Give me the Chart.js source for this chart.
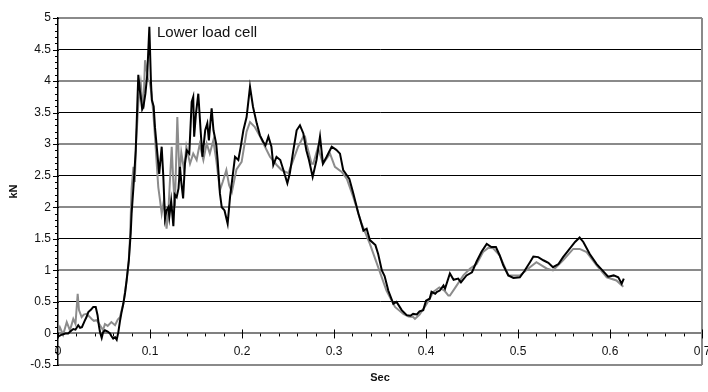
<!DOCTYPE html>
<html><head><meta charset="utf-8">
<script src="https://cdn.jsdelivr.net/npm/chart.js@4.4.1/dist/chart.umd.min.js"></script>
<style>html,body{margin:0;padding:0;background:#fff}#wrap{width:708px;height:392px}</style>
</head><body><div id="wrap"><canvas id="c" width="708" height="392" style="width:708px;height:392px"></canvas></div>
<script>
// ---- data (seconds, kN) ----
const blackT=[0.000,0.004,0.008,0.011,0.014,0.0166,0.019,0.022,0.024,0.026,0.029,0.031,0.033,0.036,0.0384,0.041,0.043,0.0445,0.0457,0.0475,0.049,0.051,0.054,0.0565,0.058,0.060,0.062,0.0638,0.0656,0.0674,0.069,0.071,0.073,0.0746,0.077,0.079,0.080,0.082,0.0845,0.0873,0.089,0.090,0.0915,0.0928,0.095,0.097,0.0993,0.101,0.102,0.104,0.1054,0.108,0.110,0.1127,0.1145,0.1163,0.118,0.120,0.121,0.123,0.1254,0.127,0.129,0.131,0.1326,0.134,0.136,0.138,0.140,0.1427,0.1453,0.147,0.148,0.150,0.1525,0.155,0.157,0.160,0.1623,0.164,0.167,0.169,0.172,0.1735,0.176,0.178,0.181,0.1844,0.187,0.1924,0.196,0.1985,0.2015,0.205,0.2087,0.212,0.216,0.2195,0.223,0.2255,0.2287,0.232,0.234,0.2375,0.2416,0.245,0.2493,0.252,0.2558,0.2594,0.263,0.2667,0.270,0.2728,0.2768,0.281,0.2848,0.288,0.292,0.2975,0.3025,0.3065,0.310,0.3167,0.321,0.3265,0.332,0.3355,0.339,0.345,0.348,0.352,0.355,0.359,0.3645,0.368,0.3736,0.379,0.383,0.386,0.390,0.393,0.397,0.400,0.404,0.406,0.410,0.412,0.415,0.419,0.4207,0.426,0.430,0.435,0.438,0.444,0.450,0.455,0.4605,0.466,0.471,0.476,0.480,0.484,0.4895,0.495,0.502,0.507,0.513,0.5167,0.522,0.5275,0.533,0.538,0.544,0.549,0.555,0.562,0.567,0.571,0.578,0.5855,0.593,0.598,0.604,0.609,0.6127,0.615];
const blackV=[-0.05,-0.02,0.00,0.00,0.04,0.07,0.06,0.13,0.09,0.10,0.20,0.26,0.34,0.38,0.42,0.42,0.29,0.12,0.02,-0.07,0.02,0.05,0.03,0.00,-0.04,-0.08,-0.06,-0.10,0.02,0.20,0.33,0.47,0.65,0.84,1.16,1.58,1.90,2.32,2.90,4.10,3.85,3.75,3.55,3.59,3.80,4.10,4.86,4.00,3.70,3.60,3.27,2.85,2.53,2.96,2.48,1.82,1.95,2.00,1.85,2.10,1.70,2.20,2.16,2.30,2.64,2.40,2.14,2.69,2.90,2.85,3.67,3.75,3.12,3.49,3.80,3.22,2.80,3.22,3.33,3.06,3.57,3.22,3.00,2.75,2.22,2.00,1.95,1.74,2.16,2.80,2.75,2.95,3.22,3.43,3.91,3.59,3.33,3.14,3.04,2.98,3.12,2.96,2.67,2.80,2.75,2.59,2.38,2.54,2.90,3.22,3.30,3.17,2.90,2.75,2.48,2.75,3.12,2.69,2.80,2.96,2.91,2.85,2.59,2.45,2.22,1.90,1.63,1.66,1.48,1.40,1.26,1.00,0.91,0.68,0.47,0.50,0.37,0.29,0.28,0.31,0.30,0.35,0.37,0.52,0.55,0.66,0.63,0.66,0.68,0.76,0.71,0.95,0.85,0.87,0.81,0.92,0.97,1.14,1.30,1.42,1.37,1.37,1.24,1.08,0.92,0.88,0.89,0.99,1.13,1.22,1.21,1.16,1.12,1.05,1.10,1.21,1.32,1.45,1.52,1.45,1.26,1.10,0.98,0.90,0.92,0.89,0.79,0.87];
const grayT=[0.000,0.002,0.0055,0.0075,0.0095,0.013,0.0166,0.019,0.0214,0.0228,0.0257,0.028,0.031,0.034,0.0366,0.039,0.042,0.0457,0.049,0.051,0.054,0.058,0.062,0.065,0.0674,0.069,0.071,0.0746,0.077,0.0785,0.080,0.082,0.0835,0.0848,0.086,0.0873,0.090,0.0915,0.0928,0.0946,0.0964,0.098,0.0996,0.1018,0.1036,0.1054,0.1073,0.109,0.111,0.1127,0.115,0.118,0.120,0.1236,0.125,0.127,0.1297,0.132,0.134,0.137,0.1395,0.1435,0.147,0.1507,0.154,0.158,0.1616,0.165,0.1688,0.172,0.176,0.179,0.183,0.186,0.189,0.194,0.1996,0.205,0.2087,0.214,0.2197,0.225,0.2304,0.2377,0.243,0.2504,0.2558,0.261,0.2667,0.2685,0.270,0.2757,0.2775,0.2825,0.288,0.2957,0.301,0.3084,0.314,0.321,0.330,0.339,0.348,0.357,0.3663,0.3754,0.381,0.386,0.388,0.393,0.400,0.404,0.408,0.4145,0.420,0.4243,0.426,0.432,0.4406,0.448,0.455,0.462,0.468,0.473,0.480,0.4895,0.502,0.513,0.520,0.531,0.538,0.549,0.560,0.567,0.5746,0.5855,0.5965,0.607,0.6145];
const grayV=[0.02,0.10,-0.02,0.08,0.18,0.05,0.23,0.15,0.63,0.37,0.26,0.30,0.31,0.27,0.23,0.20,0.21,0.13,0.05,0.15,0.12,0.18,0.13,0.22,0.26,0.36,0.47,0.84,1.16,1.60,2.30,2.64,2.40,3.01,3.30,3.65,3.96,3.70,3.56,4.33,4.17,4.00,4.00,3.78,3.49,3.12,2.69,2.32,2.10,1.90,2.10,1.66,1.95,2.96,2.50,2.00,3.43,2.48,2.87,2.59,2.96,2.69,2.85,2.75,3.00,2.75,3.01,2.85,3.06,2.75,2.27,2.40,2.59,2.35,2.24,2.60,2.72,3.20,3.35,3.27,3.12,2.96,2.80,2.67,2.59,2.54,2.75,2.96,3.12,3.12,3.01,2.69,2.69,2.95,2.69,2.85,2.64,2.56,2.45,2.16,1.74,1.42,1.05,0.68,0.42,0.31,0.27,0.26,0.23,0.30,0.45,0.55,0.66,0.73,0.68,0.60,0.60,0.73,0.92,1.03,1.10,1.29,1.36,1.35,1.24,0.92,0.92,1.05,1.13,1.03,1.00,1.16,1.34,1.34,1.29,1.08,0.89,0.84,0.74];
const xTicks=[0,0.1,0.2,0.3,0.4,0.5,0.6,0.7];
const yTicks=[-0.5,0,0.5,1,1.5,2,2.5,3,3.5,4,4.5,5];
const xTitle='Sec';
const yTitle='kN';
const noteText='Lower load cell';
const noteAt=[0.1076,4.76];

const FONT='"Liberation Sans", Arial, sans-serif';
Chart.defaults.font.family=FONT;
Chart.defaults.color='#000';

const toXY=(t,v)=>t.map((x,i)=>({x:x,y:v[i]}));

const axesPlugin={
  id:'axesPlugin',
  beforeDatasetsDraw(chart){
    const ctx=chart.ctx, xs=chart.scales.x, ys=chart.scales.y;
    const x0=xs.getPixelForValue(0), y0=ys.getPixelForValue(0);
    const top=chart.chartArea.top, bot=chart.chartArea.bottom;
    ctx.save();
    // right border
    ctx.strokeStyle='#8a8a8a'; ctx.lineWidth=2;
    const xr=Math.round(xs.getPixelForValue(0.7));
    ctx.beginPath(); ctx.moveTo(xr,top); ctx.lineTo(xr,bot); ctx.stroke();
    // y ticks
    ctx.strokeStyle='#000'; ctx.lineWidth=1;
    for(let i=-5;i<=50;i++){
      const y=Math.round(ys.getPixelForValue(i/10))+0.5;
      ctx.beginPath();
      if(i%5===0){ctx.moveTo(x0-5,y);ctx.lineTo(x0+1,y);} else {ctx.moveTo(x0-3,y);ctx.lineTo(x0,y);}
      ctx.stroke();
    }
    // x ticks
    for(let i=0;i<=35;i++){
      const x=Math.round(xs.getPixelForValue(i*0.02))+0.5;
      ctx.beginPath();
      if(i%5===0){ctx.moveTo(x,y0-4);ctx.lineTo(x,y0+5);} else {ctx.moveTo(x,y0);ctx.lineTo(x,y0+3);}
      ctx.stroke();
    }
    ctx.restore();
  },
  afterDatasetsDraw(chart){
    const ctx=chart.ctx, xs=chart.scales.x, ys=chart.scales.y;
    ctx.save();
    ctx.font='15px '+FONT; ctx.fillStyle='#111'; ctx.textBaseline='middle'; ctx.textAlign='left';
    ctx.fillText(noteText, xs.getPixelForValue(noteAt[0]), ys.getPixelForValue(noteAt[1]));
    ctx.restore();
  }
};

new Chart(document.getElementById('c'),{
  type:'line',
  data:{datasets:[
    {data:toXY(blackT,blackV),borderColor:'#000',borderWidth:2,pointRadius:0,tension:0,fill:false},
    {data:toXY(grayT,grayV),borderColor:'#8c8c8c',borderWidth:2,pointRadius:0,tension:0,fill:false}
  ]},
  options:{
    responsive:false,animation:false,devicePixelRatio:1,
    layout:{padding:{left:0,right:6,top:18,bottom:0}},
    plugins:{legend:{display:false},tooltip:{enabled:false}},
    scales:{
      x:{type:'linear',position:{y:0},min:0,max:0.7,
        afterBuildTicks:s=>{s.ticks=xTicks.map(v=>({value:v}));},
        afterFit:s=>{s.paddingLeft=0;s.paddingRight=0;},
        ticks:{font:{size:12},color:'#111',padding:11,maxRotation:0,autoSkip:false,callback:v=>String(v)},
        grid:{display:false,drawTicks:false},
        border:{display:true,color:'#808080',width:2}
      },
      xb:{type:'linear',position:'bottom',min:0,max:0.7,
        afterFit:s=>{s.height=27;s.paddingLeft=0;s.paddingRight=0;},
        ticks:{display:false},grid:{display:false,drawTicks:false},border:{display:false},
        title:{display:true,text:xTitle,font:{size:11,weight:'bold'},padding:{top:0,bottom:7},color:'#111'}
      },
      y:{type:'linear',position:'left',min:-0.5,max:5,
        afterBuildTicks:s=>{s.ticks=yTicks.map(v=>({value:v}));},
        afterFit:s=>{s.width=58;},
        ticks:{font:{size:12},color:'#111',padding:7,autoSkip:false,callback:v=>String(v)},
        grid:{drawTicks:false,
          color:c=>{const v=c.tick?c.tick.value:0;return (Number.isInteger(v)||v===-0.5)?'#8a8a8a':'#000';},
          lineWidth:c=>{const v=c.tick?c.tick.value:0;return (Number.isInteger(v)||v===-0.5)?2:1;}},
        border:{display:true,color:'#000',width:1.5},
        title:{display:true,text:yTitle,font:{size:11,weight:'bold'},padding:{top:7,bottom:0},color:'#111'}
      }
    }
  },
  plugins:[axesPlugin]
});
</script>
</body></html>
